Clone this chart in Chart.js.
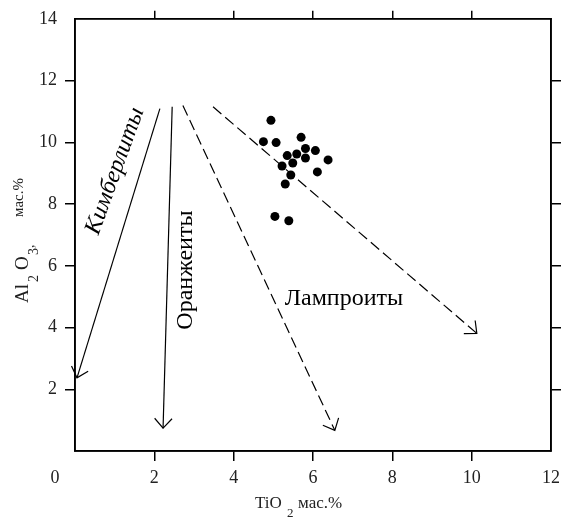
<!DOCTYPE html>
<html>
<head>
<meta charset="utf-8">
<script src="https://cdn.jsdelivr.net/npm/chart.js@4"></script>
<style>
  html, body { margin: 0; padding: 0; background: #fff; }
  canvas { display: block; }
</style>
</head>
<body>
<canvas id="chart" width="566" height="517"></canvas>
<script>
// оси
const xTicks = [0, 2, 4, 6, 8, 10, 12];
const yTicks = [0, 2, 4, 6, 8, 10, 12, 14];

// точки (TiO2, Al2O3)
const dotX = [4.94, 4.75, 5.07, 5.70, 5.81, 6.06, 6.38, 5.35, 5.59, 5.81, 5.49, 5.22, 5.44, 6.11, 5.30, 5.04, 5.39];
const dotY = [10.71, 10.02, 9.99, 10.16, 9.80, 9.73, 9.43, 9.57, 9.62, 9.49, 9.33, 9.23, 8.94, 9.04, 8.65, 7.60, 7.46];

// тренды (начало -> конец стрелки)
const kimbX = [2.14, 0.05];
const kimbY = [11.09, 2.37];
const orangX = [2.45, 2.22];
const orangY = [11.15, 0.74];
const lamp1X = [2.72, 6.55];
const lamp1Y = [11.19, 0.67];
const lamp2X = [3.48, 10.13];
const lamp2Y = [11.15, 3.81];

const SERIF = "'Liberation Serif', 'DejaVu Serif', serif";

function pts(xs, ys) {
  return xs.map((x, i) => ({ x: x, y: ys[i] }));
}

function arrowSet(xs, ys, dash) {
  return {
    type: "line",
    data: pts(xs, ys),
    borderColor: "#000",
    borderWidth: 1.2,
    borderDash: dash,
    pointRadius: 0,
    fill: false,
    arrow: true
  };
}

function tickColor(ends) {
  return c => (c.tick && ends.includes(c.tick.value)) ? "rgba(0,0,0,0)" : "#000";
}

function axis(pos, vals, ends, size, showLabels, pad) {
  const horiz = pos === "bottom" || pos === "top";
  return {
    type: "linear",
    position: pos,
    min: vals[0],
    max: vals[vals.length - 1],
    afterBuildTicks: s => { s.ticks = vals.map(v => ({ value: v })); },
    afterFit: s => { if (horiz) s.height = size; else s.width = size; },
    border: { display: true, color: "#000", width: 1.6 },
    grid: { drawOnChartArea: false, drawTicks: true, tickLength: pos === "top" ? 8 : 10, lineWidth: 1.5, color: tickColor(ends) },
    ticks: {
      display: showLabels,
      autoSkip: false,
      maxRotation: 0,
      padding: pad,
      color: "#222",
      font: { family: SERIF, size: 18 },
      callback: v => (v === 0 ? "" : v)
    }
  };
}

// подписи из нескольких кусков (индексы)
function drawRuns(ctx, runs) {
  runs.forEach(r => {
    ctx.font = r.size + "px " + SERIF;
    ctx.fillText(r.t, r.x, r.dy || 0);
  });
}

const decor = {
  id: "decor",
  afterDatasetsDraw(chart) {
    const { ctx, chartArea: a, scales: { x, y } } = chart;
    ctx.save();
    ctx.strokeStyle = "#000";
    ctx.lineWidth = 1.6;
    ctx.strokeRect(a.left, a.top, a.right - a.left, a.bottom - a.top);

    // наконечники стрелок
    ctx.lineWidth = 1.2;
    ctx.setLineDash([]);
    chart.data.datasets.forEach((ds, i) => {
      if (!ds.arrow) return;
      const el = chart.getDatasetMeta(i).data;
      const p1 = el[el.length - 2], p2 = el[el.length - 1];
      const ang = Math.atan2(p2.y - p1.y, p2.x - p1.x);
      const len = 13, spread = 42 * Math.PI / 180;
      ctx.beginPath();
      ctx.moveTo(p2.x - len * Math.cos(ang - spread), p2.y - len * Math.sin(ang - spread));
      ctx.lineTo(p2.x, p2.y);
      ctx.lineTo(p2.x - len * Math.cos(ang + spread), p2.y - len * Math.sin(ang + spread));
      ctx.stroke();
    });

    ctx.fillStyle = "#000";
    ctx.textAlign = "center";
    ctx.textBaseline = "middle";

    // Кимберлиты
    ctx.save();
    ctx.translate(x.getPixelForValue(1.01), y.getPixelForValue(9.07));
    ctx.rotate(-70 * Math.PI / 180);
    ctx.font = "italic 24px " + SERIF;
    ctx.fillText("Кимберлиты", 0, 0);
    ctx.restore();

    // Оранжеиты
    ctx.save();
    ctx.translate(x.getPixelForValue(2.80), y.getPixelForValue(5.86));
    ctx.rotate(-Math.PI / 2);
    ctx.font = "24px " + SERIF;
    ctx.fillText("Оранжеиты", 0, 0);
    ctx.restore();

    // Лампроиты
    ctx.font = "24px " + SERIF;
    ctx.fillText("Лампроиты", x.getPixelForValue(6.78), y.getPixelForValue(4.93));

    // 0 в углу
    ctx.fillStyle = "#222";
    ctx.font = "18px " + SERIF;
    ctx.fillText("0", a.left - 20, a.bottom + 27);

    // подпись оси X
    ctx.textAlign = "left";
    ctx.textBaseline = "alphabetic";
    ctx.save();
    ctx.translate(255, 508);
    drawRuns(ctx, [
      { t: "TiO", size: 17, x: 0 },
      { t: "2", size: 13, x: 32, dy: 9 },
      { t: "мас.%", size: 17, x: 43 }
    ]);
    ctx.restore();

    // подпись оси Y
    ctx.save();
    ctx.translate(28, 303);
    ctx.rotate(-Math.PI / 2);
    drawRuns(ctx, [
      { t: "Al", size: 19, x: 0 },
      { t: "2", size: 14, x: 21, dy: 10 },
      { t: "O", size: 19, x: 33 },
      { t: "3", size: 14, x: 48, dy: 10 },
      { t: ",", size: 14, x: 55, dy: 6 },
      { t: "мас.%", size: 15, x: 86, dy: -5 }
    ]);
    ctx.restore();

    ctx.restore();
  }
};

new Chart(document.getElementById("chart"), {
  type: "scatter",
  data: {
    datasets: [
      arrowSet(kimbX, kimbY, []),
      arrowSet(orangX, orangY, []),
      arrowSet(lamp1X, lamp1Y, [11, 5]),
      arrowSet(lamp2X, lamp2Y, [11, 5]),
      {
        type: "scatter",
        data: pts(dotX, dotY),
        backgroundColor: "#000",
        borderWidth: 0,
        pointRadius: 4.5
      }
    ]
  },
  options: {
    responsive: false,
    animation: false,
    layout: { padding: 0 },
    plugins: { legend: { display: false }, tooltip: { enabled: false } },
    scales: {
      x: axis("bottom", xTicks, [0, 12], 66, true, 6),
      x2: axis("top", xTicks, [0, 12], 14, false, 0),
      y: axis("left", yTicks, [0, 14], 75, true, 8),
      y2: axis("right", yTicks, [0, 14], 15, false, 0)
    }
  },
  plugins: [decor]
});
</script>
</body>
</html>
